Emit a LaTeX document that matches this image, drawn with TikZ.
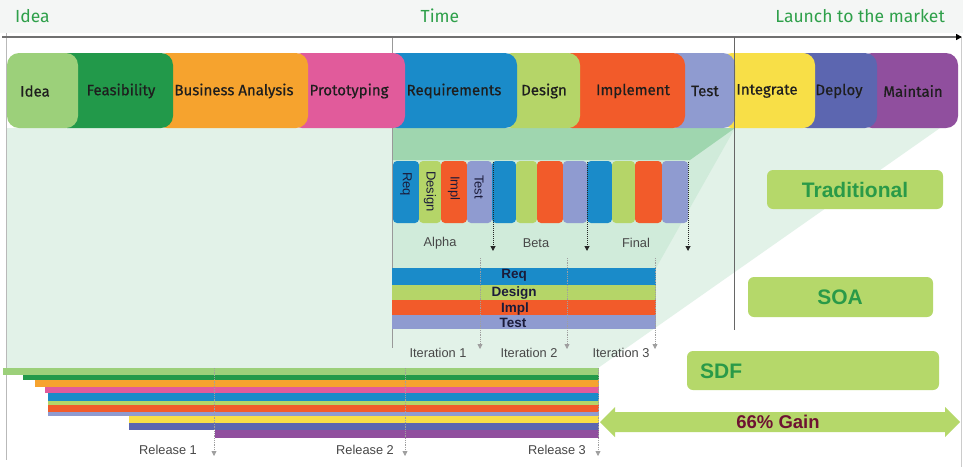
\documentclass[tikz,border=0pt]{standalone}
\usepackage{fontspec}
\setmainfont{Liberation Sans}
\newfontfamily\ubu{Fira Sans}
\newfontfamily\ubub[FakeBold=0.6]{Fira Sans}
\usetikzlibrary{arrows.meta}
\definecolor{ideaG}{HTML}{9CD07A}
\definecolor{feasG}{HTML}{22994A}
\definecolor{busO}{HTML}{F6A32E}
\definecolor{protoP}{HTML}{E15B9B}
\definecolor{reqB}{HTML}{1A8BC9}
\definecolor{desG}{HTML}{B5D568}
\definecolor{implO}{HTML}{F25B2A}
\definecolor{testL}{HTML}{8F9BD0}
\definecolor{intY}{HTML}{F8DF47}
\definecolor{depB}{HTML}{5C66B0}
\definecolor{mainP}{HTML}{904F9E}
\definecolor{headG}{HTML}{F4F6F5}
\definecolor{topG}{HTML}{2EA04A}
\definecolor{layA}{HTML}{E2F2E8}
\definecolor{layB}{HTML}{D0EBDA}
\definecolor{layC}{HTML}{9FD6AF}
\definecolor{boxG}{HTML}{B5D86A}
\definecolor{resG}{HTML}{2A9A48}
\definecolor{txtD}{HTML}{1E1E1E}
\definecolor{txtN}{HTML}{1B1B3A}
\definecolor{gainR}{HTML}{6E1232}
\definecolor{axisC}{HTML}{707070}
\begin{document}
\begin{tikzpicture}[x=1pt,y=-1pt,
  phase/.style={rounded corners=12pt},
  phasetxt/.style={font=\ubub\fontsize{15}{17}\selectfont, text=txtD, inner sep=0pt},
  toptxt/.style={font=\ubu\fontsize{17.5}{20}\selectfont, text=topG, inner sep=0pt},
  minibox/.style={rounded corners=4pt},
  minitxt/.style={font=\fontsize{13}{15}\selectfont, text=txtN, rotate=-90, anchor=west, inner sep=0pt},
  itertxt/.style={font=\bfseries\fontsize{13.5}{14}\selectfont, text=txtN, inner sep=0pt},
  smalltxt/.style={font=\fontsize{12.8}{14}\selectfont, text=black!72, inner sep=0pt},
  resbox/.style={fill=boxG, rounded corners=6pt},
  restxt/.style={font=\bfseries\fontsize{21}{23}\selectfont, text=resG, inner sep=0pt},
  blackdot/.style={densely dotted, line width=1pt, black!85, -{Triangle[length=5pt,width=5pt]}},
  graydot/.style={densely dotted, line width=0.8pt, gray!75, -{Triangle[length=5pt,width=5pt]}},
]
\useasboundingbox (0,0) rectangle (963,467);
\fill[white] (0,0) rectangle (963,467);
% header
\fill[headG] (0,0) rectangle (963,33);
\node[toptxt, anchor=west] (tIdea) at (15,16) {Idea};
\node[toptxt] (tTime) at (440,16) {Time};
\node[toptxt, anchor=east] (tLaunch) at (945,16) {Launch to the market};
% fans
\fill[layA] (7,128) -- (940,128) -- (598,368) -- (7,368) -- cycle;
\fill[layB] (392,128) -- (735,128) -- (656,268) -- (392,268) -- cycle;
\fill[layC] (392,128) -- (735,128) -- (690,160) -- (392,160) -- cycle;
% axes
\draw[gray!80, line width=1pt] (392,37) -- (392,348);
\draw[gray!55, line width=1.5pt] (6.5,33) -- (6.5,460);
\draw[gray!40, line width=1pt] (961,37) -- (961,467);
\draw[axisC, line width=2pt, -{Triangle[length=6pt,width=6pt,black]}] (2,37) -- (962,37);
% phase bar (drawn right to left)
\fill[mainP, phase] (860,53) rectangle (958,128);
\fill[depB, phase] (795,53) rectangle (877,128);
\fill[intY, phase] (720,53) rectangle (815,128);
\fill[testL, phase] (665,53) rectangle (735,128);
\fill[implO, phase] (560,53) rectangle (685,128);
\fill[desG, phase] (500,53) rectangle (580,128);
\fill[reqB, phase] (385,53) rectangle (517,128);
\fill[protoP, phase] (290,53) rectangle (405,128);
\fill[busO, phase] (155,53) rectangle (308,128);
\fill[feasG, phase] (55,53) rectangle (173,128);
\fill[ideaG, phase] (7,53) rectangle (78,128);
\node[phasetxt] (pIdea) at (35,91) {Idea};
\node[phasetxt] (pFeas) at (121,91) {Feasibility};
\node[phasetxt] (pBus) at (234,91) {Business Analysis};
\node[phasetxt] (pProto) at (349,91) {Prototyping};
\node[phasetxt] (pReq) at (454,91) {Requirements};
\node[phasetxt] (pDes) at (544,91) {Design};
\node[phasetxt] (pImpl) at (633,91) {Implement};
\node[phasetxt] (pTest) at (705,91) {Test};
\node[phasetxt] (pInt) at (767,91) {Integrate};
\node[phasetxt] (pDep) at (839,91) {Deploy};
\node[phasetxt] (pMain) at (913,91) {Maintain};
\draw[gray!80!black, line width=1pt] (734,37) -- (734,330);
% traditional mini boxes
\fill[reqB, minibox] (393,161) rectangle (419,223);
\fill[desG, minibox] (419,161) rectangle (441,223);
\fill[implO, minibox] (441,161) rectangle (467,223);
\fill[testL, minibox] (467,161) rectangle (492,223);
\fill[reqB, minibox] (492,161) rectangle (516,223);
\fill[desG, minibox] (516,161) rectangle (537,223);
\fill[implO, minibox] (537,161) rectangle (563,223);
\fill[testL, minibox] (563,161) rectangle (587,223);
\fill[reqB, minibox] (587,161) rectangle (612,223);
\fill[desG, minibox] (612,161) rectangle (635,223);
\fill[implO, minibox] (635,161) rectangle (662,223);
\fill[testL, minibox] (662,161) rectangle (688,223);
\node[minitxt] (mReq) at (406,172) {Req};
\node[minitxt] (mDes) at (430,171) {Design};
\node[minitxt] (mImpl) at (454,176) {Impl};
\node[minitxt] (mTest) at (479,175) {Test};
\coordinate (d1s) at (493,162); \coordinate (d1e) at (493,251);
\coordinate (d2s) at (587,162); \coordinate (d2e) at (587,251);
\coordinate (d3s) at (688,162); \coordinate (d3e) at (688,251);
\draw[blackdot] (d1s) -- (d1e);
\draw[blackdot] (d2s) -- (d2e);
\draw[blackdot] (d3s) -- (d3e);
\node[smalltxt] (lAlpha) at (440,243) {Alpha};
\node[smalltxt] (lBeta) at (536,243) {Beta};
\node[smalltxt] (lFinal) at (636,243) {Final};
% SOA iteration bars
\fill[reqB] (392,268) rectangle (656,285);
\fill[desG] (392,285) rectangle (656,300);
\fill[implO] (392,300) rectangle (656,315);
\fill[testL] (392,315) rectangle (656,329);
\node[itertxt] (iReq) at (514,275) {Req};
\node[itertxt] (iDes) at (514,293) {Design};
\node[itertxt] (iImpl) at (515,309) {Impl};
\node[itertxt] (iTest) at (513,323) {Test};
\coordinate (i1s) at (480,258); \coordinate (i1e) at (480,349);
\coordinate (i2s) at (567,258); \coordinate (i2e) at (567,349);
\coordinate (i3s) at (655,258); \coordinate (i3e) at (655,349);
\draw[graydot] (i1s) -- (i1e);
\draw[graydot] (i2s) -- (i2e);
\draw[graydot] (i3s) -- (i3e);
\node[smalltxt] (lIt1) at (438,353) {Iteration 1};
\node[smalltxt] (lIt2) at (529,353) {Iteration 2};
\node[smalltxt] (lIt3) at (621,353) {Iteration 3};
% SDF bars
\fill[ideaG] (3,368) rectangle (599,375);
\fill[feasG] (23,375) rectangle (599,380);
\fill[busO] (35,380) rectangle (599,387);
\fill[protoP] (45,387) rectangle (599,393);
\fill[reqB] (48,393) rectangle (599,401);
\fill[desG] (48,401) rectangle (599,405);
\fill[implO] (48,405) rectangle (599,412);
\fill[testL] (48,412) rectangle (599,416);
\fill[intY] (129,416) rectangle (599,423);
\fill[depB] (129,423) rectangle (599,430);
\fill[mainP] (215,430) rectangle (599,438);
\coordinate (r1s) at (214,368); \coordinate (r1e) at (214,456);
\coordinate (r2s) at (405,368); \coordinate (r2e) at (405,456);
\coordinate (r3s) at (598,368); \coordinate (r3e) at (598,456);
\draw[graydot] (r1s) -- (r1e);
\draw[graydot] (r2s) -- (r2e);
\draw[graydot] (r3s) -- (r3e);
\node[smalltxt] (lR1) at (168,450) {Release 1};
\node[smalltxt] (lR2) at (365,450) {Release 2};
\node[smalltxt] (lR3) at (557,450) {Release 3};
% result boxes
\path[resbox] (767,170) rectangle (943,209);
\node[restxt] (trad) at (855,190) {Traditional};
\path[resbox] (748,277) rectangle (933,317);
\node[restxt] (soa) at (840,297) {SOA};
\path[resbox] (687,351) rectangle (939,390);
\node[restxt, anchor=west] (sdf) at (700,371) {SDF};
% gain arrow
\fill[boxG] (600,422) -- (615,407) -- (615,412) -- (945,412) -- (945,407) -- (960,422)
  -- (945,437) -- (945,432) -- (615,432) -- (615,437) -- cycle;
\node[font=\bfseries\fontsize{18.5}{20}\selectfont, text=gainR, inner sep=0pt] (gain) at (778,422) {66\% Gain};
\end{tikzpicture}
\end{document}
